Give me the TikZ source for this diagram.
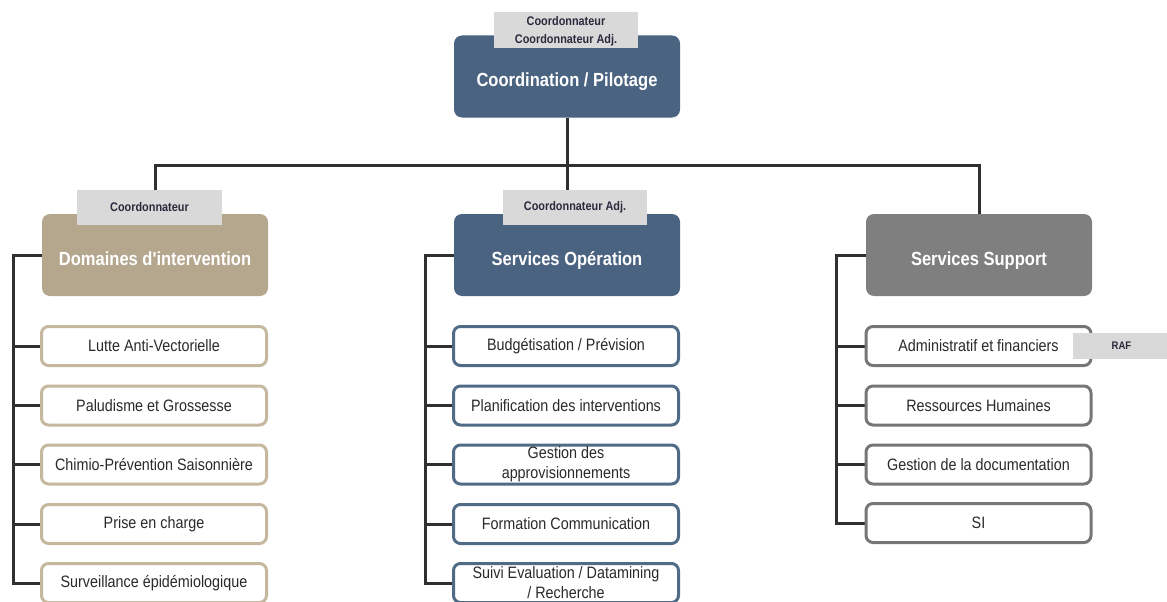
\documentclass[tikz,border=0pt]{standalone}
\usepackage{fontspec}
\setmainfont{Liberation Sans}
\newfontfamily\nsans[FakeStretch=0.87]{Liberation Sans}
\usetikzlibrary{backgrounds}
\definecolor{slate}{HTML}{4A6380}
\definecolor{tan}{HTML}{B4A78D}
\definecolor{supgray}{HTML}{7F7F7F}
\definecolor{tagc}{HTML}{D9D9D9}
\definecolor{tantxt}{HTML}{C5B89E}
\definecolor{slateb}{HTML}{506B86}
\definecolor{grayb}{HTML}{767676}
\definecolor{linec}{HTML}{303030}
\definecolor{childtext}{HTML}{2A2A2A}
\definecolor{tagtext}{HTML}{2A2A3E}
\tikzset{
  mainbox/.style={rounded corners=8pt, minimum width=226pt, minimum height=82pt,
    inner sep=0pt, text=white, font=\nsans\bfseries\fontsize{19}{22}\selectfont},
  tagbox/.style={fill=tagc, inner sep=0pt, align=center, text=tagtext,
    font=\nsans\bfseries\fontsize{12.5}{17.5}\selectfont},
  childbox/.style={fill=white, rounded corners=7pt, line width=3pt,
    minimum width=225pt, minimum height=39pt, inner sep=0pt, align=center,
    text=childtext, font=\nsans\fontsize{16.5}{20}\selectfont},
  domchild/.style={childbox, draw=tantxt},
  opchild/.style={childbox, draw=slateb},
  supchild/.style={childbox, draw=grayb},
  link/.style={draw=linec, line width=3pt},
}
\newcommand{\lowtext}[2]{\raisebox{#1}[0pt][0pt]{#2}}
\begin{document}
\begin{tikzpicture}[x=1pt, y=-1pt]
\useasboundingbox (0,0) rectangle (1167,602);

% main boxes
\node[mainbox, fill=slate] (coord) at (567,76.5) {\lowtext{-10.3pt}{Coordination / Pilotage}};
\node[mainbox, fill=tan] (dom) at (155,255) {\lowtext{-10pt}{Domaines d'intervention}};
\node[mainbox, fill=slate] (sop) at (567,255) {\lowtext{-10pt}{Services Opération}};
\node[mainbox, fill=supgray] (sup) at (979,255) {\lowtext{-10pt}{Services Support}};

% tags
\node[tagbox, minimum width=144pt, minimum height=36pt] (tcoord) at (566,30) {\lowtext{-14pt}{\shortstack{Coordonnateur\\[6pt]Coordonnateur Adj.}}};
\node[tagbox, minimum width=145pt, minimum height=35pt] (tdom) at (149.5,207.5) {\raisebox{2pt}{Coordonnateur}};
\node[tagbox, minimum width=144pt, minimum height=35pt] (tsop) at (575,207.5) {\raisebox{2pt}{Coordonnateur Adj.}};

% children: Domaines
\node[domchild] (d1) at (154,346) {Lutte Anti-Vectorielle};
\node[domchild] (d2) at (154,405.5) {Paludisme et Grossesse};
\node[domchild] (d3) at (154,464.5) {Chimio-Prévention Saisonnière};
\node[domchild] (d4) at (154,524) {Prise en charge};
\node[domchild] (d5) at (154,583) {Surveillance épidémiologique};

% children: Services Operation
\node[opchild] (o1) at (566,346) {Budgétisation / Prévision};
\node[opchild] (o2) at (566,405.5) {Planification des interventions};
\node[opchild] (o3) at (566,464.5) {Gestion des\\approvisionnements};
\node[opchild] (o4) at (566,524) {Formation Communication};
\node[opchild] (o5) at (566,583) {Suivi Evaluation / Datamining\\/ Recherche};

% children: Services Support
\node[supchild] (s1) at (978.5,346) {Administratif et financiers};
\node[supchild] (s2) at (978.5,405.5) {Ressources Humaines};
\node[supchild] (s3) at (978.5,464.5) {Gestion de la documentation};
\node[supchild] (s4) at (978.5,523) {SI};

% RAF tag
\node[tagbox, minimum width=97pt, minimum height=26pt, font=\nsans\bfseries\fontsize{11}{13}\selectfont] (traf) at (1121.5,346) {RAF};

% connectors
\coordinate (bar) at (567,165);
\coordinate (dspine) at (13,255);
\coordinate (ospine) at (425,255);
\coordinate (sspine) at (836,255);
\begin{pgfonlayer}{background}
  \draw[link] (coord.south) -- (sop.north);
  \draw[link] (dom.north) |- (bar) -| (sup.north);
  \draw[link] (dom.west) -- (dspine) |- (d5.west);
  \foreach \c in {d1,d2,d3,d4} \draw[link] (dspine) |- (\c.west);
  \draw[link] (sop.west) -- (ospine) |- (o5.west);
  \foreach \c in {o1,o2,o3,o4} \draw[link] (ospine) |- (\c.west);
  \draw[link] (sup.west) -- (sspine) |- (s4.west);
  \foreach \c in {s1,s2,s3} \draw[link] (sspine) |- (\c.west);
\end{pgfonlayer}
\end{tikzpicture}
\end{document}
